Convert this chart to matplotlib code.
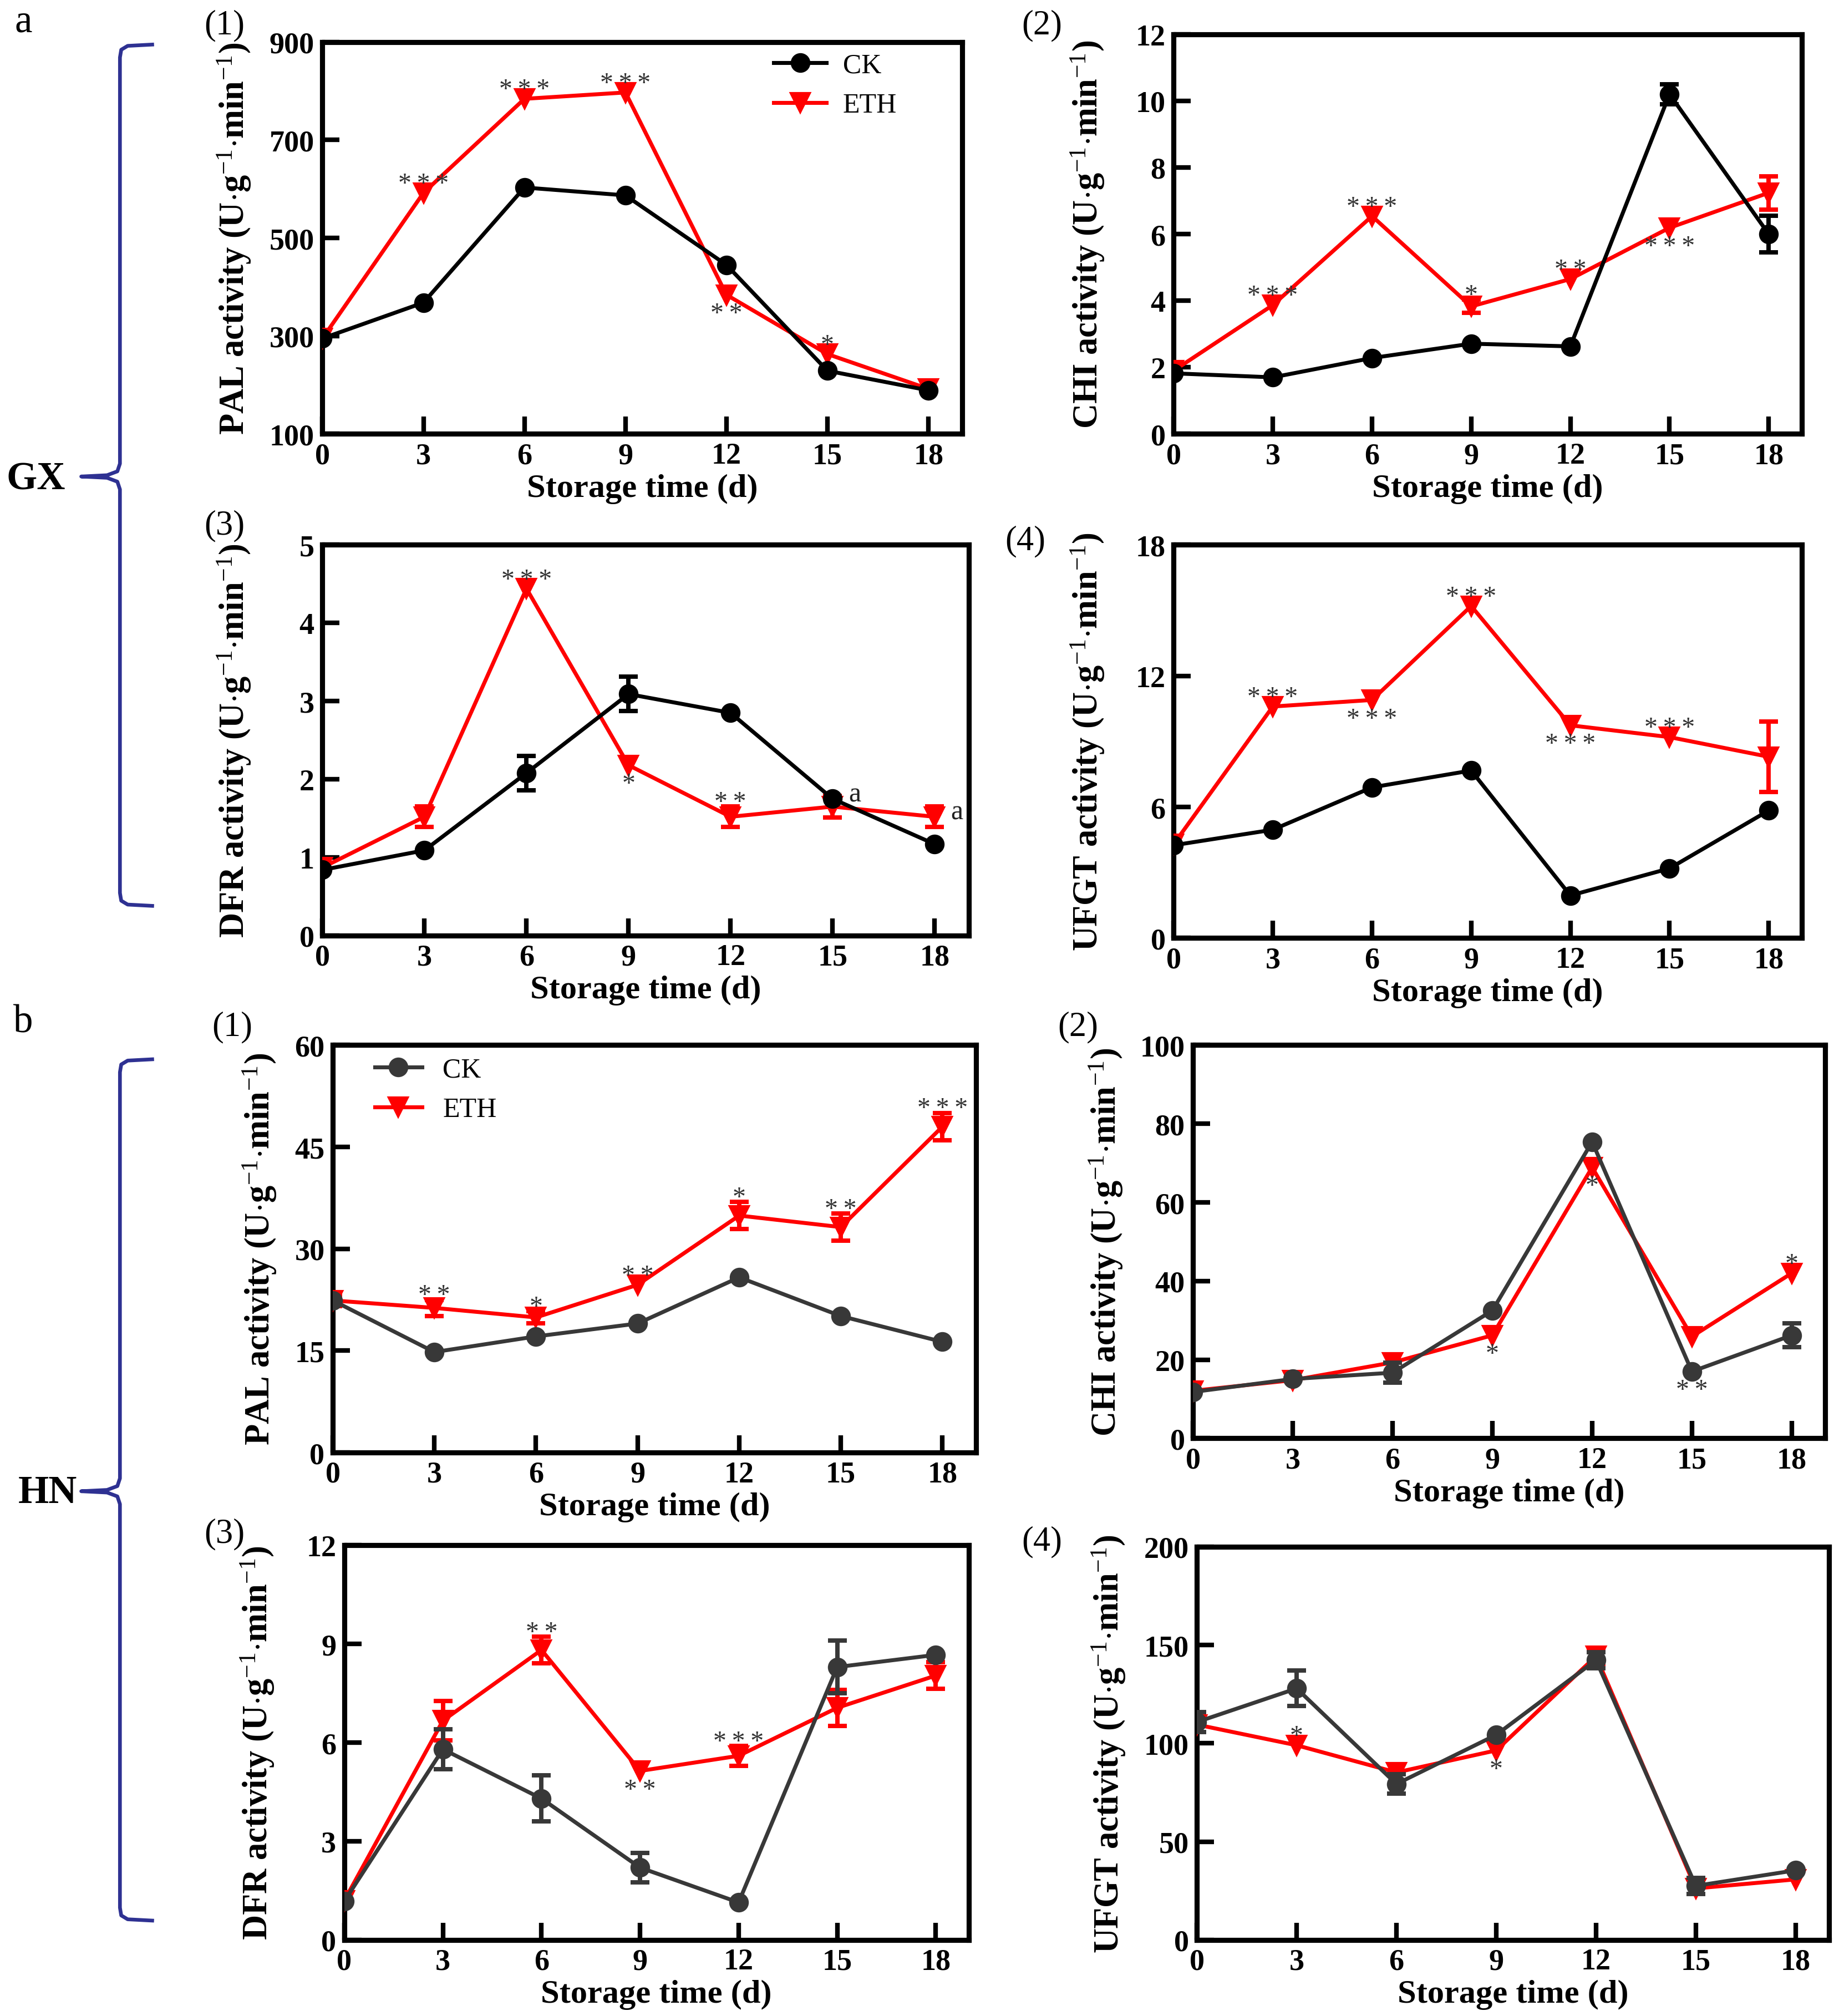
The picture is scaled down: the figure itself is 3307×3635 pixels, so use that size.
import numpy as np
import matplotlib
matplotlib.use("Agg")
import matplotlib.pyplot as plt
from matplotlib.lines import Line2D

plt.rcParams['font.family'] = ['Liberation Serif', 'DejaVu Serif']
plt.rcParams['mathtext.fontset'] = 'custom'
plt.rcParams['mathtext.rm'] = 'Liberation Serif'
plt.rcParams['mathtext.it'] = 'Liberation Serif:italic'
plt.rcParams['mathtext.bf'] = 'Liberation Serif:bold'

days = [0, 3, 6, 9, 12, 15, 18]

# ---------------- data (a = GX, b = HN) ----------------
a1_ck = [295, 368, 603, 587, 445, 229, 189]
a1_eth = [295, 592, 784, 797, 384, 263, 192]
a1_ck_err = [0, 0, 0, 0, 0, 0, 0]
a1_eth_err = [0, 0, 0, 0, 0, 0, 0]

a2_ck = [1.82, 1.70, 2.28, 2.71, 2.63, 10.2, 6.0]
a2_eth = [1.9, 3.87, 6.54, 3.83, 4.65, 6.19, 7.24]
a2_ck_err = [0, 0, 0, 0, 0, 0.3, 0.55]
a2_eth_err = [0, 0, 0, 0.2, 0, 0, 0.5]

a3_ck = [0.84, 1.09, 2.08, 3.09, 2.85, 1.75, 1.17]
a3_eth = [0.87, 1.52, 4.44, 2.18, 1.52, 1.65, 1.52]
a3_ck_err = [0, 0, 0.22, 0.22, 0, 0, 0]
a3_eth_err = [0, 0.13, 0, 0, 0.13, 0.14, 0.13]

a4_ck = [4.25, 4.96, 6.9, 7.67, 1.95, 3.19, 5.84]
a4_eth = [4.3, 10.6, 10.9, 15.2, 9.74, 9.2, 8.3]
a4_ck_err = [0, 0, 0, 0, 0, 0, 0]
a4_eth_err = [0, 0, 0, 0, 0, 0, 1.6]

b1_ck = [22.4, 14.8, 17.1, 19.0, 25.8, 20.1, 16.3]
b1_eth = [22.4, 21.3, 19.9, 24.7, 34.9, 33.2, 48.0]
b1_ck_err = [0, 0, 0, 0, 0, 0, 0]
b1_eth_err = [0.8, 1.2, 0.9, 0, 2.0, 2.0, 2.0]

b2_ck = [11.8, 15.1, 16.7, 32.5, 75.4, 17.0, 26.2]
b2_eth = [12.1, 14.8, 19.3, 26.2, 68.9, 25.9, 42.0]
b2_ck_err = [0, 0, 2.5, 0, 0, 0, 3.0]
b2_eth_err = [0, 0, 0, 0, 0, 0, 0]

b3_ck = [1.18, 5.8, 4.3, 2.2, 1.14, 8.3, 8.67]
b3_eth = [1.2, 6.67, 8.82, 5.14, 5.6, 7.06, 8.04]
b3_ck_err = [0, 0.6, 0.7, 0.45, 0, 0.8, 0]
b3_eth_err = [0, 0.6, 0.4, 0, 0.3, 0.55, 0.4]

b4_ck = [110.8, 127.9, 79.3, 104.3, 142.3, 27.5, 35.4]
b4_eth = [109.5, 99.0, 85.2, 96.4, 144.3, 26.2, 30.8]
b4_ck_err = [5, 9, 5, 0, 4, 4, 0]
b4_eth_err = [0, 0, 0, 0, 4, 0, 0]

# significance marks: (day index, text, anchor series, direction)
a1_sig = [(1, '***', 'eth', 'up'), (2, '***', 'eth', 'up'), (3, '***', 'eth', 'up'),
          (4, '**', 'eth', 'down'), (5, '*', 'eth', 'up')]
a2_sig = [(1, '***', 'eth', 'up'), (2, '***', 'eth', 'up'), (3, '*', 'eth', 'up'),
          (4, '**', 'eth', 'up'), (5, '***', 'eth', 'down')]
a3_sig = [(2, '***', 'eth', 'up'), (3, '*', 'eth', 'down'), (4, '**', 'eth', 'up')]
a3_letters = [(5, 'a', 'ck'), (6, 'a', 'eth')]
a4_sig = [(1, '***', 'eth', 'up'), (2, '***', 'eth', 'down'), (3, '***', 'eth', 'up'),
          (4, '***', 'eth', 'down'), (5, '***', 'eth', 'up')]
b1_sig = [(1, '**', 'eth', 'up'), (2, '*', 'eth', 'up'), (3, '**', 'eth', 'up'),
          (4, '*', 'eth', 'up'), (5, '**', 'eth', 'up'), (6, '***', 'eth', 'up')]
b2_sig = [(3, '*', 'eth', 'down'), (4, '*', 'eth', 'down'), (5, '**', 'ck', 'down'),
          (6, '*', 'eth', 'up')]
b3_sig = [(2, '**', 'eth', 'up'), (3, '**', 'eth', 'down'), (4, '***', 'eth', 'up')]
b4_sig = [(1, '*', 'eth', 'up'), (3, '*', 'eth', 'down')]

W, H = 1422.0, 1564.0  # reference layout units


def fx(x):
    return x / W


def fy(y):
    return 1 - y / H


# axes boxes in layout units: left, right, top, bottom
boxes = {
    'a1': (250, 746, 33, 337), 'a2': (910, 1397, 27, 337),
    'a3': (250, 751, 423, 726), 'a4': (910, 1397, 423, 728),
    'b1': (258, 757, 811, 1127), 'b2': (925, 1415, 811, 1116),
    'b3': (267, 751, 1199, 1505), 'b4': (928, 1418, 1200, 1505),
}
ylab_off = {'a1': 60, 'a2': 58, 'a3': 60, 'a4': 58, 'b1': 48, 'b2': 59, 'b3': 59, 'b4': 60}

panels = [
    ('a1', a1_ck, a1_eth, a1_ck_err, a1_eth_err, a1_sig, (100, 900), [100, 300, 500, 700, 900], 'PAL', 'black'),
    ('a2', a2_ck, a2_eth, a2_ck_err, a2_eth_err, a2_sig, (0, 12), [0, 2, 4, 6, 8, 10, 12], 'CHI', 'black'),
    ('a3', a3_ck, a3_eth, a3_ck_err, a3_eth_err, a3_sig, (0, 5), [0, 1, 2, 3, 4, 5], 'DFR', 'black'),
    ('a4', a4_ck, a4_eth, a4_ck_err, a4_eth_err, a4_sig, (0, 18), [0, 6, 12, 18], 'UFGT', 'black'),
    ('b1', b1_ck, b1_eth, b1_ck_err, b1_eth_err, b1_sig, (0, 60), [0, 15, 30, 45, 60], 'PAL', '#383838'),
    ('b2', b2_ck, b2_eth, b2_ck_err, b2_eth_err, b2_sig, (0, 100), [0, 20, 40, 60, 80, 100], 'CHI', '#383838'),
    ('b3', b3_ck, b3_eth, b3_ck_err, b3_eth_err, b3_sig, (0, 12), [0, 3, 6, 9, 12], 'DFR', '#383838'),
    ('b4', b4_ck, b4_eth, b4_ck_err, b4_eth_err, b4_sig, (0, 200), [0, 50, 100, 150, 200], 'UFGT', '#383838'),
]

RED = '#ff0000'
SIGCOL = '#333333'
fig = plt.figure(figsize=(3307 / 300, 3636 / 300), dpi=300)

axes = {}
for key, ck, eth, ckerr, etherr, sig, ylim, yticks, name, ckcol in panels:
    l, r, t, b = boxes[key]
    ax = fig.add_axes([fx(l), fy(b), (r - l) / W, (b - t) / H])
    axes[key] = ax
    x = np.array(days, dtype=float)
    ck = np.array(ck, dtype=float)
    eth = np.array(eth, dtype=float)
    ckerr = np.array(ckerr, dtype=float)
    etherr = np.array(etherr, dtype=float)

    ax.plot(x, eth, color=RED, lw=1.7, marker='v', ms=8, zorder=3, label='ETH')
    m = etherr > 0
    if m.any():
        ax.errorbar(x[m], eth[m], yerr=etherr[m], fmt='none', ecolor=RED,
                    elinewidth=1.9, capsize=4, capthick=1.9, zorder=3)
    ax.plot(x, ck, color=ckcol, lw=1.7, marker='o', ms=7.5, zorder=4, label='CK')
    m = ckerr > 0
    if m.any():
        ax.errorbar(x[m], ck[m], yerr=ckerr[m], fmt='none', ecolor=ckcol,
                    elinewidth=1.9, capsize=4, capthick=1.9, zorder=4)

    for i, txt, ser, d in sig:
        val = eth[i] if ser == 'eth' else ck[i]
        err = etherr[i] if ser == 'eth' else ckerr[i]
        stxt = '\u2009'.join(list(txt))
        if d == 'up':
            base = val + err
            off = -3.5 if err > 0 else -1.5
            ax.annotate(stxt, (x[i], base), xytext=(0, off), textcoords='offset points',
                        ha='center', va='bottom', fontsize=11.5, color=SIGCOL, zorder=5)
        else:
            base = val - err
            off = -1.5 if err > 0 else -3.0
            ax.annotate(stxt, (x[i], base), xytext=(0, off), textcoords='offset points',
                        ha='center', va='top', fontsize=11.5, color=SIGCOL, zorder=5)

    ax.set_xlim(0, 19)
    ax.set_ylim(*ylim)
    ax.set_xticks(days)
    ax.set_yticks(yticks)
    ax.tick_params(direction='in', length=7.5, width=2.0, labelsize=13, pad=3.5)
    for lab in ax.get_xticklabels() + ax.get_yticklabels():
        lab.set_fontweight('bold')
    for s in ax.spines.values():
        s.set_linewidth(2.2)
    ax.set_xlabel('Storage time (d)', fontsize=14.5, fontweight='bold', labelpad=1.5)
    ax.set_ylabel(name + r' activity (U$\cdot$g$^{-1}$$\cdot$min$^{-1}$)',
                  fontsize=15, fontweight='bold')
    ax.yaxis.set_label_coords(-(ylab_off[key] - 6) / (r - l), 0.5)

# letters in a3
ax = axes['a3']
for i, txt, ser in a3_letters:
    val = a3_eth[i] if ser == 'eth' else a3_ck[i]
    ax.annotate(txt, (days[i], val), xytext=(7, 2), textcoords='offset points',
                ha='left', va='center', fontsize=12, color='#202020')

# legends
h_ck = Line2D([], [], color='black', lw=1.7, marker='o', ms=7.5)
h_eth = Line2D([], [], color=RED, lw=1.7, marker='v', ms=8)
axes['a1'].legend([h_ck, h_eth], ['CK', 'ETH'], loc='upper left', bbox_to_anchor=(0.675, 1.022),
                  frameon=False, fontsize=12, handlelength=1.9, handletextpad=0.6,
                  labelspacing=0.5, borderaxespad=0.3)
h_ck2 = Line2D([], [], color='#383838', lw=1.7, marker='o', ms=7.5)
axes['b1'].legend([h_ck2, h_eth], ['CK', 'ETH'], loc='upper left', bbox_to_anchor=(0.035, 1.018),
                  frameon=False, fontsize=12, handlelength=1.7, handletextpad=0.75,
                  labelspacing=0.5, borderaxespad=0.3)

# panel numbers
for txt, (x, y) in [('(1)', (174, 20)), ('(2)', (808, 20)), ('(3)', (174, 408)), ('(4)', (795, 420)),
                    ('(1)', (180, 797)), ('(2)', (836, 797)), ('(3)', (174, 1190)), ('(4)', (808, 1196))]:
    fig.text(fx(x), fy(y), txt, ha='center', va='center', fontsize=15)

fig.text(fx(18), fy(17), 'a', ha='center', va='center', fontsize=17)
fig.text(fx(18), fy(793), 'b', ha='center', va='center', fontsize=17)
fig.text(fx(28), fy(372), 'GX', ha='center', va='center', fontsize=17, fontweight='bold')
fig.text(fx(37), fy(1158), 'HN', ha='center', va='center', fontsize=17, fontweight='bold')


def brace(top, mid, bot, xr=118, xv=93, xt=63):
    pts = [(xr, top), (99, top + 1), (xv + 1, top + 4), (xv, top + 10),
           (xv, mid - 10), (xv - 2, mid - 4), (xv - 10, mid - 1), (xt, mid),
           (xv - 10, mid + 1), (xv - 2, mid + 4), (xv, mid + 10),
           (xv, bot - 10), (xv + 1, bot - 4), (99, bot - 1), (xr, bot)]
    xs = [fx(p[0]) for p in pts]
    ys = [fy(p[1]) for p in pts]
    fig.add_artist(Line2D(xs, ys, color='#2E3192', lw=1.6, transform=fig.transFigure,
                          solid_joinstyle='round'))


brace(35, 370, 703)
brace(822, 1157, 1490)

fig.savefig('out.png', dpi=300)
